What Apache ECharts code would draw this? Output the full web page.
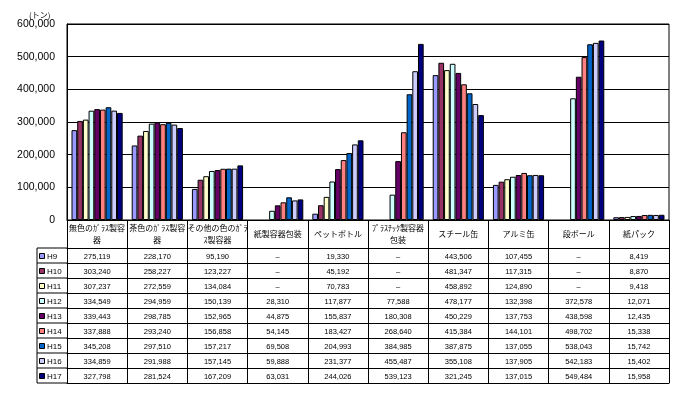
<!DOCTYPE html>
<html><head><meta charset="utf-8">
<script src="https://cdn.jsdelivr.net/npm/echarts@6/dist/echarts.min.js"></script>
<style>html,body{margin:0;padding:0;background:#fff}#c{width:684px;height:399px}</style>
</head><body><div id="c"></div>
<script>
// ---- data ----
const categories = ['無色のｶﾞﾗｽ製容\n器','茶色のｶﾞﾗｽ製容\n器','その他の色のｶﾞﾗ\nｽ製容器','紙製容器包装','ペットボトル','ﾌﾟﾗｽﾁｯｸ製容器\n包装','スチール缶','アルミ缶','段ボール','紙パック'];
const years = ['H9','H10','H11','H12','H13','H14','H15','H16','H17'];
const colorlessGlass = [275119,303240,307237,334549,339443,337888,345208,334859,327798];
const brownGlass     = [228170,258227,272559,294959,298785,293240,297510,291988,281524];
const otherGlass     = [95190,123227,134084,150139,152965,156858,157217,157145,167209];
const paperPackaging = [null,null,null,28310,44875,54145,69508,59888,63031];
const petBottles     = [19330,45192,70783,117877,155837,183427,204993,231377,244026];
const plasticPack    = [null,null,null,77588,180308,268640,384985,455487,539123];
const steelCans      = [443506,481347,458892,478177,450229,415384,387875,355108,321245];
const aluminumCans   = [107455,117315,124890,132398,137753,144101,137055,137905,137015];
const cardboard      = [null,null,null,372578,438598,498702,538043,542183,549484];
const paperCartons   = [8419,8870,9418,12071,12435,15338,15742,15402,15958];
const yMin = 0, yMax = 600000, yStep = 100000;
const unitLabel = '(トン)';
const colors = ['#9999FF','#993366','#FFFFCC','#CCFFFF','#660066','#FF8080','#0066CC','#CCCCFF','#000080'];

const byCategory = [colorlessGlass,brownGlass,otherGlass,paperPackaging,petBottles,plasticPack,steelCans,aluminumCans,cardboard,paperCartons];

// ---- layout ----
const G_LEFT = 67, G_TOP = 24, G_BOTTOM_Y = 220, W = 684, H = 399, G_RIGHT_X = 669;
const HEADER_H = 28, ROW_H = 15, TABLE_LEFT = 37;
const JP = '"Noto Sans CJK JP", sans-serif';
const NUM = '"Liberation Sans", Arial, sans-serif';
const fmt = v => (v == null ? '–' : v.toLocaleString('en-US'));

const chart = echarts.init(document.getElementById('c'), null, {renderer:'canvas'});

const xAxes = [{
  type:'category', data:categories, gridIndex:0, position:'bottom',
  axisLine:{show:true, lineStyle:{color:'#000', width:1}},
  axisTick:{show:true, length:HEADER_H, lineStyle:{color:'#000', width:1}},
  axisLabel:{interval:0, hideOverlap:false, margin:14, verticalAlign:'middle', fontSize:8, lineHeight:12, color:'#000', fontFamily:JP}
}];
years.forEach((y, i) => {
  xAxes.push({
    type:'category', data:categories, gridIndex:0, position:'bottom', offset:HEADER_H + ROW_H*i,
    axisLine:{show:true, lineStyle:{color:'#000', width:1}},
    axisTick:{show:true, length:ROW_H, lineStyle:{color:'#000', width:1}},
    axisLabel:{interval:0, hideOverlap:false, margin:8.5, verticalAlign:'middle', fontSize:7.5, color:'#000', fontFamily:NUM,
      formatter:(val, idx) => fmt(byCategory[idx][i])}
  });
});
xAxes.push({
  type:'category', data:categories, gridIndex:0, position:'bottom', offset:HEADER_H + ROW_H*years.length,
  axisLine:{show:true, lineStyle:{color:'#000', width:1}}, axisTick:{show:false}, axisLabel:{show:false}
});

const series = years.map((y, i) => ({
  name:y, type:'bar', xAxisIndex:0, yAxisIndex:0,
  data: byCategory.map(arr => arr[i] == null ? '-' : arr[i]),
  barGap:'0%', barCategoryGap:'15%',
  itemStyle:{color:colors[i], borderColor:'#000', borderWidth:1},
  emphasis:{disabled:true}, animation:false
}));

// legend column (table row headers)
const graphics = [];
const tableTop = G_BOTTOM_Y + HEADER_H, tableBottom = tableTop + ROW_H*years.length;
graphics.push({type:'line', shape:{x1:TABLE_LEFT, y1:tableTop, x2:TABLE_LEFT, y2:tableBottom}, style:{stroke:'#000', lineWidth:1}});
for (let k = 0; k <= years.length; k++) {
  const yy = tableTop + ROW_H*k;
  graphics.push({type:'line', shape:{x1:TABLE_LEFT, y1:yy, x2:G_LEFT, y2:yy}, style:{stroke:'#000', lineWidth:1}});
}
years.forEach((y, i) => {
  const cy = tableTop + ROW_H*i + ROW_H/2 + 1;
  graphics.push({type:'rect', shape:{x:TABLE_LEFT + 2.5, y:cy - 3, width:5, height:5},
    style:{fill:colors[i], stroke:'#000', lineWidth:1}});
  graphics.push({type:'text', x:TABLE_LEFT + 10, y:cy,
    style:{text:y, fontSize:8, fontFamily:NUM, fill:'#000', verticalAlign:'middle', align:'left'}});
});

chart.setOption({
  backgroundColor:'#fff',
  animation:false,
  title:{text:unitLabel, left:24, top:6, textStyle:{fontSize:8, fontWeight:'normal', color:'#000', fontFamily:JP}},
  grid:{left:G_LEFT, top:G_TOP, right:W - G_RIGHT_X, bottom:H - G_BOTTOM_Y, show:true, borderColor:'#000', borderWidth:1, backgroundColor:'#fff', containLabel:false},
  xAxis:xAxes,
  yAxis:{type:'value', min:yMin, max:yMax, interval:yStep,
    axisLine:{show:true, lineStyle:{color:'#000'}}, axisTick:{show:false},
    splitLine:{show:true, lineStyle:{color:'#000', width:1}},
    axisLabel:{margin:12, fontSize:10.5, color:'#000', fontFamily:NUM, formatter:v => v.toLocaleString('en-US')}},
  series:series,
  graphic:graphics
});
</script></body></html>
